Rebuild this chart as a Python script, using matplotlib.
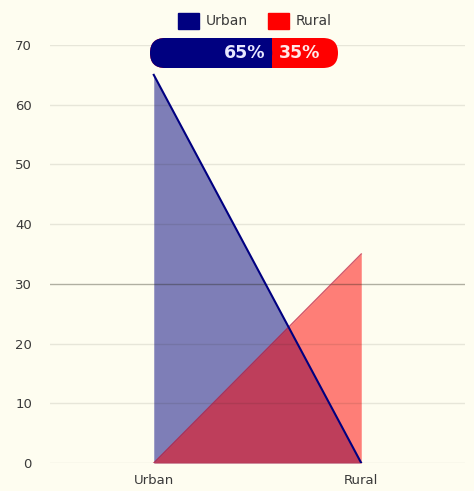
import matplotlib.pyplot as plt
from matplotlib.patches import Patch, FancyBboxPatch, Rectangle

plt.rcParams['font.family'] = ['DejaVu Sans']

categories = ['Urban', 'Rural']
urban = [65, 0]
rural = [0, 35]
shares = [65, 35]
share_labels = ['65%', '35%']
y_ticks = [0, 10, 20, 30, 40, 50, 60, 70]

navy = '#000080'
red = '#ff0000'
bg = '#fefdf0'

fig = plt.figure(figsize=(4.74, 4.91), dpi=100, facecolor=bg)
ax = fig.add_axes([50 / 474, 28 / 491, 415 / 474, 418 / 491], facecolor=bg)

x = range(len(categories))
ax.fill_between(x, urban, color=navy, alpha=0.5, linewidth=0, zorder=1)
ax.fill_between(x, rural, color=red, alpha=0.5, linewidth=0, zorder=1)
ax.plot(x, rural, color='#c01030', lw=1.0, alpha=0.7, zorder=3)
ax.plot(x, urban, color=navy, lw=1.5, zorder=3)

ax.set_xlim(-0.5, 1.5)
ax.set_ylim(0, 70)
ax.set_xticks(list(x))
ax.set_xticklabels(categories)
ax.set_yticks(y_ticks)
ax.tick_params(length=0, labelsize=9.5, labelcolor='#3a3a3a', pad=8)
ax.tick_params(axis='y', pad=13)
for s in ax.spines.values():
    s.set_visible(False)
for t in y_ticks:
    a = 0.35 if t == 30 else 0.1
    ax.axhline(t, color='#202010', alpha=a, lw=1.0, zorder=2)

# legend
handles = [Patch(color=navy, label='Urban'), Patch(color=red, label='Rural')]
fig.legend(handles=handles, loc='upper center', bbox_to_anchor=(0.538, 1.0), ncol=2,
           frameon=False, handlelength=1.5, handleheight=1.4, handletextpad=0.45,
           columnspacing=1.5, fontsize=10, labelcolor='#3a3a3a')

# percentage pill
W, H = 188, 30
pax = fig.add_axes([150 / 474, (491 - 68) / 491, W / 474, H / 491])
pax.set_xlim(0, W)
pax.set_ylim(0, H)
pax.axis('off')
split = W * shares[0] / sum(shares)
pax.add_patch(FancyBboxPatch((0, 0), W, H, boxstyle=f'round,pad=0,rounding_size={H / 2}',
                             fc=red, ec='none'))
pax.add_patch(FancyBboxPatch((0, 0), split, H, boxstyle=f'round,pad=0,rounding_size={H / 2}',
                             fc=navy, ec='none'))
pax.add_patch(Rectangle((split - H / 2, 0), H / 2, H, fc=navy, ec='none'))
pax.text(split - 7, H / 2, share_labels[0], color='#e8e8ff', fontsize=12.5, fontweight='bold',
         ha='right', va='center')
pax.text(split + 7, H / 2, share_labels[1], color='#ffe8e8', fontsize=12.5, fontweight='bold',
         ha='left', va='center')

plt.savefig('out.png', dpi=100, facecolor=bg)
